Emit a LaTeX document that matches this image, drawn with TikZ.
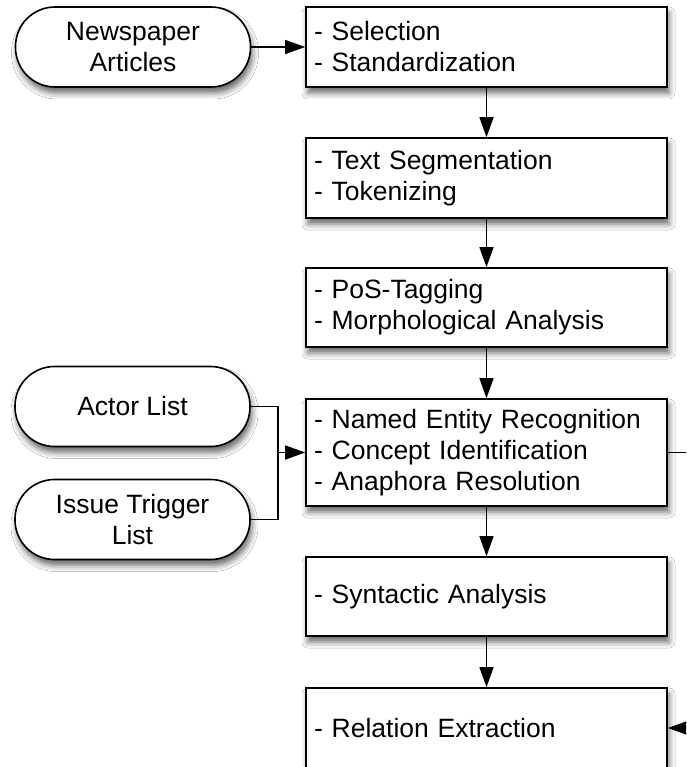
\documentclass[tikz,border=0pt]{standalone}
\usepackage{fontspec}
\setmainfont{Liberation Sans}
\usetikzlibrary{arrows.meta,shadows.blur}
\begin{document}
\begin{tikzpicture}[x=1pt,y=-1pt,
  shade/.style={blur shadow={shadow xshift=2pt,shadow yshift=-6pt,shadow blur radius=6pt,shadow opacity=60}},
  source/.style={draw=black,line width=1.6pt,fill=white,rounded corners=39.5pt,minimum width=235pt,minimum height=80pt,align=center,inner sep=0pt,shade,font=\fontsize{26.5}{31}\selectfont},
  stepbox/.style={draw=black,line width=1.6pt,fill=white,minimum width=361pt,text width=345pt,inner xsep=8pt,inner ysep=0pt,align=left,shade,font=\fontsize{26.5}{31}\selectfont},
  conn/.style={line width=1.4pt},
  arr/.style={conn,-{Triangle[length=20pt,width=14pt]}}]
\useasboundingbox (0,0) rectangle (686,767);
\clip (0,0) rectangle (686,767);
\fill[white] (0,0) rectangle (686,767);

\node[source] (news) at (133,47) {Newspaper\\Articles};
\node[source] (actor) at (132.5,406.5) {Actor List};
\node[source] (issue) at (132.5,519.5) {Issue Trigger\\List};

\node[stepbox,minimum height=80pt] (sel) at (486.5,47) {- Selection\\- Standardization};
\node[stepbox,minimum height=80pt] (seg) at (486.5,178) {- Text Segmentation\\- Tokenizing};
\node[stepbox,minimum height=79pt] (pos) at (486.5,307.5) {- PoS-Tagging\\- Morphological Analysis};
\node[stepbox,minimum height=107pt] (ner) at (486.5,452.5) {- Named Entity Recognition\\- Concept Identification\\- Anaphora Resolution};
\node[stepbox,minimum height=79pt] (syn) at (486.5,596.5) {- Syntactic Analysis};
\node[stepbox,minimum height=80pt] (rel) at (486.5,728) {- Relation Extraction};

\draw[arr] (news.east) -- (sel.west |- news.east);
\draw[arr] (sel) -- (seg);
\draw[arr] (seg) -- (pos);
\draw[arr] (pos) -- (ner);
\draw[arr] (ner) -- (syn);
\draw[arr] (syn) -- (rel);

\coordinate (j) at (278,452.5);
\draw[conn] (actor.east) -| (j) |- (issue.east);
\draw[arr] (j) -- (ner.west);

\coordinate (r) at (720,452.5);
\draw[conn] (ner.east) -- (r);
\draw[arr] (r) |- (rel.east);
\end{tikzpicture}
\end{document}
